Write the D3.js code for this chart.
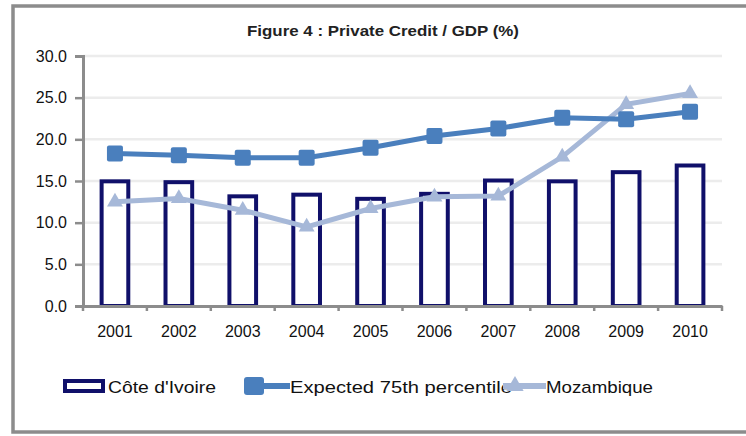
<!DOCTYPE html>
<html lang="en">
<head>
<meta charset="UTF-8">
<title>Private Credit / GDP</title>
<script src="https://cdn.jsdelivr.net/npm/d3@7"></script>
<style>
	body { margin: 0; background: #fff; }
	text { font-family: "Liberation Sans", Arial, sans-serif; }
</style>
</head>
<body>
<div id="vis"></div>
<script>
	var years = ["2001", "2002", "2003", "2004", "2005", "2006", "2007", "2008", "2009", "2010"];
	var coteIvoire = [15.2, 15.1, 13.4, 13.6, 13.1, 13.7, 15.3, 15.2, 16.3, 17.1];
	var expected75 = [18.3, 18.1, 17.8, 17.8, 19.0, 20.4, 21.3, 22.6, 22.4, 23.3];
	var mozambique = [12.5, 12.9, 11.5, 9.5, 11.7, 13.1, 13.2, 17.9, 24.2, 25.5];
	var yTicks = [0, 5, 10, 15, 20, 25, 30];

	var width = 746, height = 436;
	var svg = d3.select("#vis").append("svg")
		.attr("width", width)
		.attr("height", height);

	// outer frame
	svg.append("rect")
		.attr("x", 13).attr("y", 6)
		.attr("width", 746).attr("height", 426)
		.attr("fill", "#fff")
		.attr("stroke", "#8c8c8c")
		.attr("stroke-width", 3.5);

	svg.append("text")
		.attr("x", 247).attr("y", 36)
		.attr("font-size", 14.5)
		.attr("font-weight", "bold")
		.attr("fill", "#222")
		.attr("textLength", 272).attr("lengthAdjust", "spacingAndGlyphs")
		.text("Figure 4 : Private Credit / GDP  (%)");

	var plotLeft = 83, plotRight = 722, plotTop = 56, plotBottom = 306;

	var x = d3.scaleBand().domain(years).range([plotLeft, plotRight]);
	var y = d3.scaleLinear().domain([0, 30]).range([plotBottom, plotTop]);

	// gridlines
	svg.append("g").selectAll("line")
		.data(yTicks.slice(1))
		.join("line")
		.attr("x1", plotLeft).attr("x2", plotRight)
		.attr("y1", d => y(d)).attr("y2", d => y(d))
		.attr("stroke", "#ececec")
		.attr("stroke-width", 2.5);

	// bars
	var barW = x.bandwidth() * 0.48;
	svg.append("g").selectAll("rect")
		.data(coteIvoire)
		.join("rect")
		.attr("x", (d, i) => x(years[i]) + (x.bandwidth() - barW) / 2 + 2)
		.attr("y", d => y(d) + 2)
		.attr("width", barW - 4)
		.attr("height", d => plotBottom - y(d) - 2)
		.attr("fill", "#fff")
		.attr("stroke", "#10106a")
		.attr("stroke-width", 4);

	var cx = (d, i) => x(years[i]) + x.bandwidth() / 2;
	var line = d3.line().x(cx).y(d => y(d));

	// Mozambique line
	svg.append("path")
		.datum(mozambique)
		.attr("d", line)
		.attr("fill", "none")
		.attr("stroke", "#a6b8d8")
		.attr("stroke-width", 5);
	svg.append("g").selectAll("path")
		.data(mozambique)
		.join("path")
		.attr("transform", (d, i) => "translate(" + cx(d, i) + "," + y(d) + ")")
		.attr("d", d3.symbol(d3.symbolTriangle, 110))
		.attr("fill", "#a6b8d8");

	// expected 75th percentile line
	svg.append("path")
		.datum(expected75)
		.attr("d", line)
		.attr("fill", "none")
		.attr("stroke", "#4a7fbd")
		.attr("stroke-width", 5);
	svg.append("g").selectAll("rect")
		.data(expected75)
		.join("rect")
		.attr("x", (d, i) => cx(d, i) - 8)
		.attr("y", d => y(d) - 8)
		.attr("width", 16).attr("height", 16)
		.attr("rx", 2)
		.attr("fill", "#4a7fbd");

	// axes
	var yAxis = d3.axisLeft(y).tickValues(yTicks).tickFormat(d3.format(".1f")).tickSize(8).tickPadding(8);
	var gy = svg.append("g").attr("transform", "translate(" + plotLeft + ",0)").call(yAxis);
	var xAxis = d3.axisBottom(x).tickSize(0).tickPadding(20);
	var gx = svg.append("g").attr("transform", "translate(0," + plotBottom + ")").call(xAxis);

	// category boundary ticks
	svg.append("g").selectAll("line")
		.data(years.concat(["end"]))
		.join("line")
		.attr("x1", (d, i) => plotLeft + i * x.step()).attr("x2", (d, i) => plotLeft + i * x.step())
		.attr("y1", plotBottom).attr("y2", plotBottom + 5)
		.attr("stroke", "#8c8c8c").attr("stroke-width", 2.5);

	[gy, gx].forEach(function (g) {
		g.select(".domain").attr("stroke", "#8c8c8c").attr("stroke-width", 3);
		g.selectAll(".tick line").attr("stroke", "#8c8c8c").attr("stroke-width", 2.5);
		g.selectAll("text").attr("font-size", 16).attr("fill", "#111")
			.style("font-family", "'Liberation Sans', Arial, sans-serif");
	});

	// legend
	var lg = svg.append("g").attr("font-size", 17).attr("fill", "#111");
	lg.append("rect").attr("x", 65).attr("y", 381).attr("width", 38).attr("height", 10)
		.attr("fill", "#fff").attr("stroke", "#10106a").attr("stroke-width", 4);
	lg.append("text").attr("x", 108).attr("y", 393)
		.attr("textLength", 108).attr("lengthAdjust", "spacingAndGlyphs").text("Côte d'Ivoire");

	lg.append("line").attr("x1", 246).attr("x2", 290).attr("y1", 386).attr("y2", 386)
		.attr("stroke", "#4a7fbd").attr("stroke-width", 6);
	lg.append("rect").attr("x", 244).attr("y", 377).attr("width", 20).attr("height", 18)
		.attr("rx", 3).attr("fill", "#4a7fbd");
	lg.append("text").attr("x", 290).attr("y", 393)
		.attr("textLength", 222).attr("lengthAdjust", "spacingAndGlyphs").text("Expected 75th percentile");

	lg.append("line").attr("x1", 503).attr("x2", 546).attr("y1", 386).attr("y2", 386)
		.attr("stroke", "#a6b8d8").attr("stroke-width", 6);
	lg.append("path").attr("transform", "translate(515,386)")
		.attr("d", d3.symbol(d3.symbolTriangle, 130)).attr("fill", "#a6b8d8");
	lg.append("text").attr("x", 546).attr("y", 393)
		.attr("textLength", 107).attr("lengthAdjust", "spacingAndGlyphs").text("Mozambique");
</script>
</body>
</html>
